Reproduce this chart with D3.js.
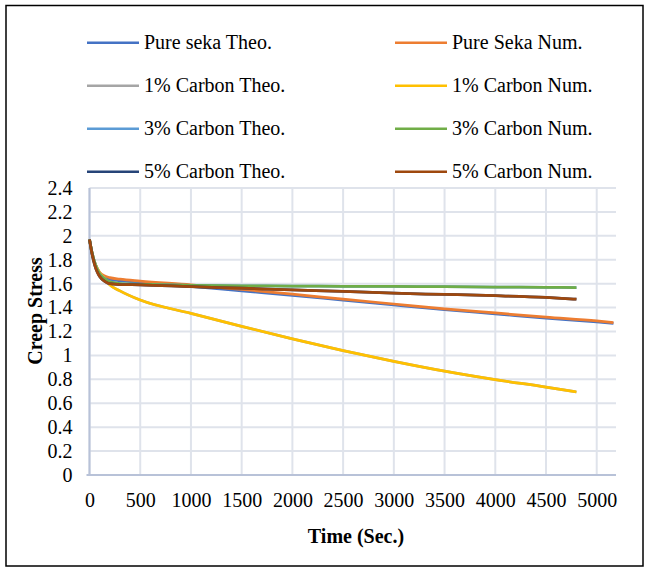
<!DOCTYPE html>
<html>
<head>
<meta charset="utf-8">
<script src="https://cdn.jsdelivr.net/npm/d3@7"></script>
<style>
  body { margin: 0; background: #fff; }
  text { font-family: "Liberation Serif", "Times New Roman", serif; fill: #000; }
</style>
</head>
<body>
<script>
// Width and height
var width = 649;
var height = 568;

// data
var seriesNames = ["Pure seka Theo.", "Pure Seka Num.", "1% Carbon Theo.", "1% Carbon Num.",
                   "3% Carbon Theo.", "3% Carbon Num.", "5% Carbon Theo.", "5% Carbon Num."];
var seriesColors = ["#4472C4", "#ED7D31", "#A5A5A5", "#FFC000", "#5B9BD5", "#70AD47", "#264478", "#9E480E"];

var timePure = [0, 25, 50, 75, 100, 150, 200, 300, 500, 1000, 1500, 2000, 2500, 3000, 3500, 4000, 4500, 5000, 5165];
var timeCarbon = [0, 25, 50, 75, 100, 150, 200, 300, 500, 1000, 1500, 2000, 2500, 3000, 3500, 4000, 4500, 4800];

var pureTheo = [1.97, 1.85, 1.77, 1.72, 1.685, 1.655, 1.635, 1.625, 1.61, 1.578, 1.54, 1.503, 1.462, 1.422, 1.383, 1.348, 1.312, 1.28, 1.268];
var pureNum = [1.97, 1.86, 1.78, 1.73, 1.695, 1.665, 1.65, 1.638, 1.622, 1.59, 1.552, 1.513, 1.47, 1.43, 1.39, 1.355, 1.32, 1.288, 1.275];
var c1Theo = [1.97, 1.86, 1.78, 1.73, 1.69, 1.64, 1.59, 1.54, 1.463, 1.352, 1.243, 1.138, 1.04, 0.95, 0.868, 0.797, 0.735, 0.694];
var c1Num = [1.97, 1.86, 1.78, 1.73, 1.69, 1.64, 1.59, 1.54, 1.463, 1.352, 1.243, 1.138, 1.04, 0.95, 0.868, 0.797, 0.735, 0.694];
var c3Theo = [1.97, 1.86, 1.78, 1.72, 1.68, 1.64, 1.615, 1.60, 1.595, 1.585, 1.582, 1.58, 1.578, 1.577, 1.575, 1.572, 1.569, 1.567];
var c3Num = [1.97, 1.86, 1.78, 1.72, 1.68, 1.64, 1.615, 1.60, 1.595, 1.585, 1.582, 1.58, 1.578, 1.577, 1.575, 1.572, 1.569, 1.567];
var c5Theo = [1.97, 1.85, 1.76, 1.70, 1.66, 1.62, 1.60, 1.593, 1.59, 1.575, 1.562, 1.548, 1.535, 1.52, 1.51, 1.50, 1.485, 1.47];
var c5Num = [1.97, 1.85, 1.76, 1.70, 1.66, 1.62, 1.60, 1.593, 1.59, 1.575, 1.562, 1.548, 1.535, 1.52, 1.51, 1.50, 1.485, 1.47];

var xTicks = [0, 500, 1000, 1500, 2000, 2500, 3000, 3500, 4000, 4500, 5000];
var yTicks = [0, 0.2, 0.4, 0.6, 0.8, 1, 1.2, 1.4, 1.6, 1.8, 2, 2.2, 2.4];

var seriesValues = [pureTheo, pureNum, c1Theo, c1Num, c3Theo, c3Num, c5Theo, c5Num];
var seriesTimes = [timePure, timePure, timeCarbon, timeCarbon, timeCarbon, timeCarbon, timeCarbon, timeCarbon];

var series = seriesNames.map(function(name, i) {
    return {
        name: name,
        color: seriesColors[i],
        points: seriesValues[i].map(function(v, j) {
            return { t: seriesTimes[i][j], v: v };
        })
    };
});

var plot = { left: 89.5, right: 616, top: 188, bottom: 475 };

var xScale = d3.scaleLinear()
                .domain([0, 5190])
                .range([plot.left, plot.right]);

var yScale = d3.scaleLinear()
                .domain([0, 2.4])
                .range([plot.bottom, plot.top]);

var svg = d3.select("body")
                .append("svg")
                .attr("width", width)
                .attr("height", height);

// outer frame
svg.append("rect")
    .attr("x", 6)
    .attr("y", 5.5)
    .attr("width", 637)
    .attr("height", 560.5)
    .attr("fill", "none")
    .attr("stroke", "#000")
    .attr("stroke-width", 1.5);

// gridlines
svg.append("g")
    .selectAll("line")
    .data(yTicks)
    .enter()
    .append("line")
    .attr("x1", plot.left)
    .attr("x2", plot.right)
    .attr("y1", function(d) { return yScale(d); })
    .attr("y2", function(d) { return yScale(d); })
    .attr("stroke", "#dfe3eb")
    .attr("stroke-width", 2);

svg.append("g")
    .selectAll("line")
    .data(xTicks)
    .enter()
    .append("line")
    .attr("x1", function(d) { return xScale(d); })
    .attr("x2", function(d) { return xScale(d); })
    .attr("y1", plot.top)
    .attr("y2", plot.bottom)
    .attr("stroke", "#dfe3eb")
    .attr("stroke-width", 2);

// axes
var xAxis = d3.axisBottom(xScale)
                .tickValues(xTicks)
                .tickSize(0)
                .tickPadding(18)
                .tickFormat(d3.format("d"));

var yAxis = d3.axisLeft(yScale)
                .tickValues(yTicks)
                .tickSize(0)
                .tickPadding(17)
                .tickFormat(function(d) { return String(+d.toFixed(1)); });

var gx = svg.append("g")
    .attr("transform", "translate(0," + plot.bottom + ")")
    .call(xAxis);

var gy = svg.append("g")
    .attr("transform", "translate(" + plot.left + ",0)")
    .call(yAxis);

gx.select(".domain").remove();
gy.select(".domain").remove();

svg.selectAll(".tick text")
    .attr("font-family", "Liberation Serif, Times New Roman, serif")
    .attr("font-size", 20)
    .attr("fill", "#000");

svg.append("line")
    .attr("x1", plot.left - 3)
    .attr("x2", plot.right)
    .attr("y1", plot.bottom)
    .attr("y2", plot.bottom)
    .attr("stroke", "#b8c2d8")
    .attr("stroke-width", 2);

svg.append("line")
    .attr("x1", plot.left)
    .attr("x2", plot.left)
    .attr("y1", plot.top)
    .attr("y2", plot.bottom)
    .attr("stroke", "#b8c2d8")
    .attr("stroke-width", 2);

// lines
var line = d3.line()
    .x(function(d) { return xScale(d.t); })
    .y(function(d) { return yScale(d.v); })
    .curve(d3.curveMonotoneX);

svg.append("g")
    .selectAll("path")
    .data(series)
    .enter()
    .append("path")
    .attr("d", function(d) { return line(d.points); })
    .attr("fill", "none")
    .attr("stroke", function(d) { return d.color; })
    .attr("stroke-width", 2.75)
    .attr("stroke-linejoin", "round");

// axis titles
svg.append("text")
    .attr("x", 356)
    .attr("y", 543)
    .attr("text-anchor", "middle")
    .attr("font-size", 20)
    .attr("font-weight", "bold")
    .text("Time (Sec.)");

svg.append("text")
    .attr("transform", "translate(42,311) rotate(-90)")
    .attr("text-anchor", "middle")
    .attr("font-size", 20)
    .attr("font-weight", "bold")
    .text("Creep Stress");

// legend
var legend = svg.append("g")
    .selectAll("g")
    .data(series)
    .enter()
    .append("g")
    .attr("transform", function(d, i) {
        var col = i % 2;
        var row = Math.floor(i / 2);
        return "translate(" + (col === 0 ? 87 : 395) + "," + (42.7 + row * 43) + ")";
    });

legend.append("line")
    .attr("x1", 0)
    .attr("x2", 52)
    .attr("y1", 0)
    .attr("y2", 0)
    .attr("stroke", function(d) { return d.color; })
    .attr("stroke-width", 2.5);

legend.append("text")
    .attr("x", 57)
    .attr("y", 6.6)
    .attr("font-size", 20)
    .text(function(d) { return d.name; });
</script>
</body>
</html>
